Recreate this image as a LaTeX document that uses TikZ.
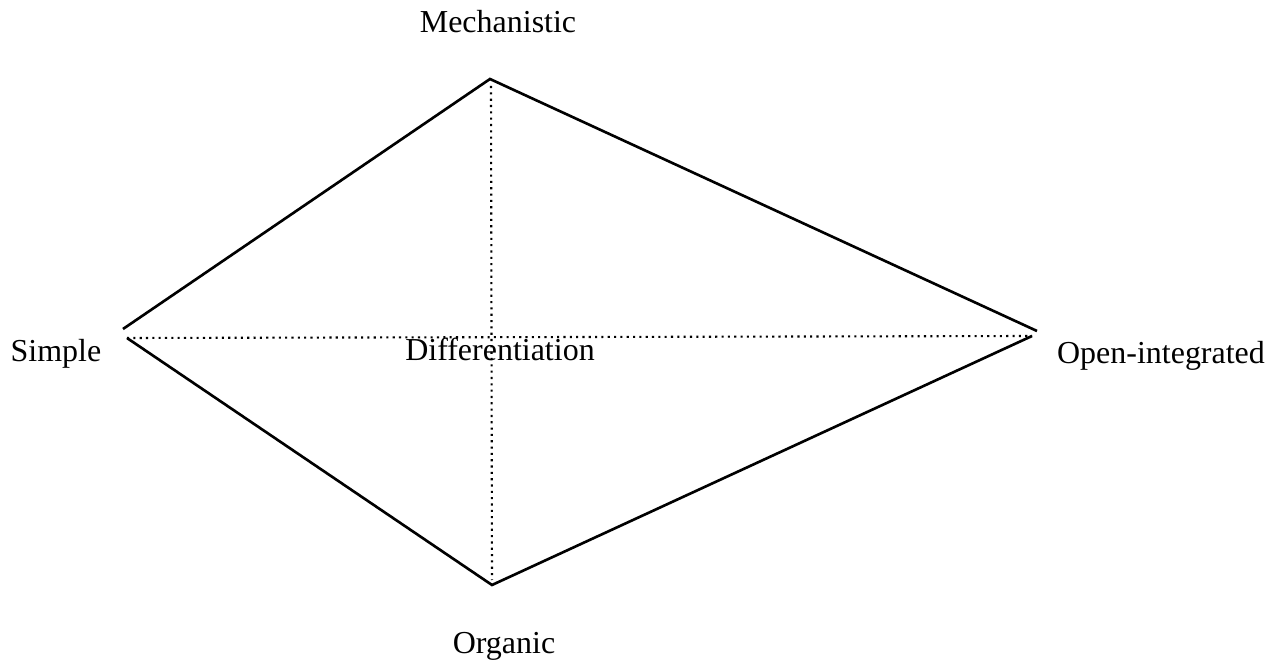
\documentclass[tikz,border=0pt]{standalone}
\usepackage{fontspec}
\setmainfont{Liberation Serif}

\begin{document}
\begin{tikzpicture}[x=0.02cm,y=-0.02cm,
   every node/.style={font=\fontsize{18.2}{22}\selectfont,anchor=base},
   edge/.style={line width=1.5pt},
   axis/.style={line width=1.2pt,dash pattern=on 1.2pt off 2.4pt}]
\useasboundingbox (0,0) rectangle (1282,665);
\coordinate (mech) at (490,79);
\coordinate (simp) at (123,329);
\coordinate (simpb) at (127,338);
\coordinate (open) at (1037,331);
\coordinate (openb) at (1032,336);
\coordinate (org) at (492,585);
\draw[edge] (simp) -- (mech) -- (open);
\draw[edge] (simpb) -- (org) -- (openb);
\draw[axis] (simpb) -- (openb);
\draw[axis] (491,86) coordinate (v1) -- (492,580) coordinate (v2);
\node (lmech) at (498,33) {Mechanistic};
\node (lsimp) at (56,362) {Simple};
\node (ldiff) at (500,361) {Differentiation};
\node (lopen) at (1161,364) {Open-integrated};
\node (lorg) at (504,653) {Organic};
\end{tikzpicture}
\end{document}
